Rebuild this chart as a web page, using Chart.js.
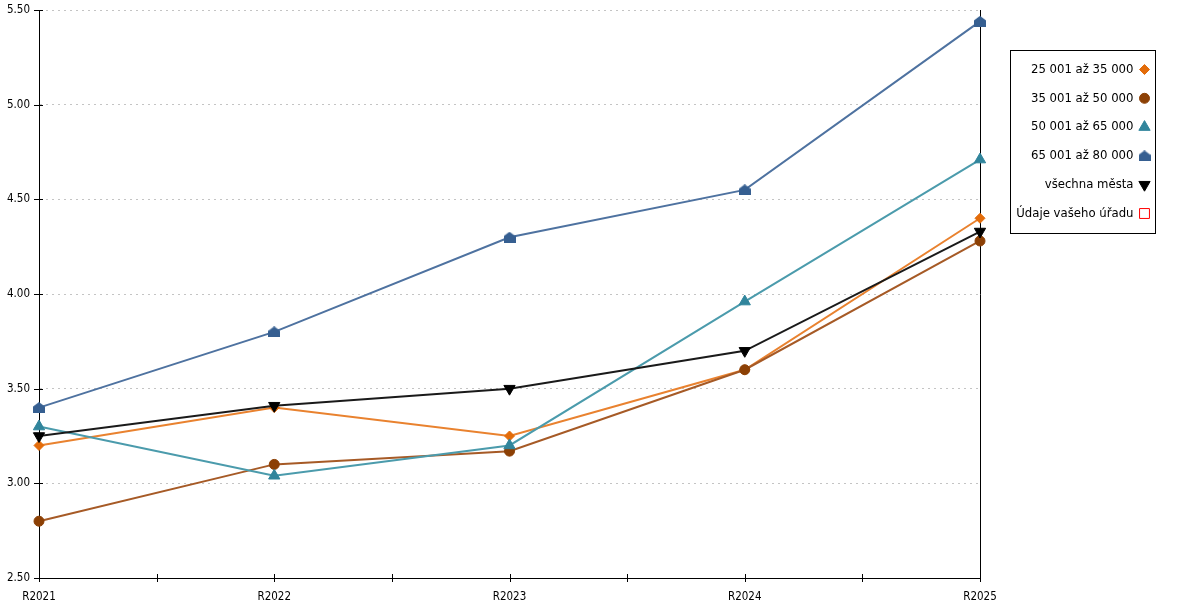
<!DOCTYPE html>
<html>
<head>
<meta charset="utf-8">
<script src="https://cdn.jsdelivr.net/npm/chart.js@4.4.1/dist/chart.umd.min.js"></script>
<style>
  html, body { margin: 0; padding: 0; background: #fff; }
  #wrap { width: 1200px; height: 600px; }
</style>
</head>
<body>
<div id="wrap"><canvas id="myChart"></canvas></div>
<script>
const years = ['R2021', 'R2022', 'R2023', 'R2024', 'R2025'];
const city25to35 = [3.20, 3.40, 3.25, 3.60, 4.40];
const city35to50 = [2.80, 3.10, 3.17, 3.60, 4.28];
const city50to65 = [3.30, 3.04, 3.20, 3.96, 4.71];
const city65to80 = [3.40, 3.80, 4.30, 4.55, 5.44];
const allCities = [3.25, 3.41, 3.50, 3.70, 4.33];
const yourOffice = []; // no data for this office
const seriesNames = ['25 001 až 35 000', '35 001 až 50 000', '50 001 až 65 000', '65 001 až 80 000', 'všechna města', 'Údaje vašeho úřadu'];
const yMin = 2.5, yMax = 5.5, yStep = 0.5;

const FONT = '"DejaVu Sans Condensed", "DejaVu Sans", sans-serif';

// house shaped marker for the 65 001 - 80 000 series
function houseMarker(color) {
  const c = document.createElement('canvas');
  c.width = 12; c.height = 11;
  const g = c.getContext('2d');
  g.fillStyle = color;
  g.beginPath();
  g.moveTo(6, 0);
  g.lineTo(12, 4.5);
  g.lineTo(12, 11);
  g.lineTo(0, 11);
  g.lineTo(0, 4.5);
  g.closePath();
  g.fill();
  return c;
}

function series(idx, data, line, mark, style, radius, rotation) {
  return {
    label: seriesNames[idx],
    data: data,
    order: 10 - idx, // later series on top
    borderColor: line,
    backgroundColor: mark,
    borderWidth: 2,
    tension: 0,
    pointStyle: style,
    pointRadius: radius,
    pointHoverRadius: radius,
    pointRotation: rotation || 0,
    pointBackgroundColor: mark,
    pointBorderColor: mark,
    pointBorderWidth: 1,
    clip: 12
  };
}

const datasets = [
  series(0, city25to35, '#e9822f', '#e36c0a', 'rectRot', 5),
  series(1, city35to50, '#a65a26', '#8c4005', 'circle', 5),
  series(2, city50to65, '#4b9bac', '#31859c', 'triangle', 6.5),
  series(3, city65to80, '#4e72a0', '#365f91', houseMarker('#365f91'), 6),
  series(4, allCities, '#1a1a1a', '#000000', 'triangle', 6.5, 180),
  series(5, yourOffice, '#ff0000', '#ffffff', 'rect', 7)
];
datasets[5].pointBorderColor = '#ff0000';

// tick marks crossing both axes
const axisMarks = {
  id: 'axisMarks',
  beforeDatasetsDraw(chart) {
    const { ctx, chartArea: a, scales: { x, y } } = chart;
    ctx.save();
    ctx.strokeStyle = '#000';
    ctx.lineWidth = 1;
    ctx.beginPath();
    for (let i = 0; i < years.length; i++) {
      const px = Math.round(x.getPixelForValue(i)) + 0.5;
      ctx.moveTo(px, a.bottom - 4);
      ctx.lineTo(px, a.bottom + 4);
      if (i < years.length - 1) {
        const mx = Math.round((x.getPixelForValue(i) + x.getPixelForValue(i + 1)) / 2) + 0.5;
        ctx.moveTo(mx, a.bottom - 4);
        ctx.lineTo(mx, a.bottom + 4);
      }
    }
    y.ticks.forEach(t => {
      const py = Math.round(y.getPixelForValue(t.value)) + 0.5;
      ctx.moveTo(a.left - 5, py);
      ctx.lineTo(a.left + 4, py);
    });
    ctx.stroke();
    ctx.restore();
  }
};

// framed legend on the right, text right aligned with marker after it
const boxLegend = {
  id: 'boxLegend',
  afterDraw(chart) {
    const { ctx, chartArea: a } = chart;
    const left = Math.round(a.right) + 30.5, top = 50.5, w = 145, h = 183;
    ctx.save();
    ctx.strokeStyle = '#000';
    ctx.lineWidth = 1;
    ctx.strokeRect(left, top, w, h);
    ctx.font = '13px ' + FONT;
    ctx.textAlign = 'right';
    ctx.textBaseline = 'middle';
    chart.data.datasets.forEach((ds, i) => {
      const cy = top + 19 + i * 28.8;
      ctx.fillStyle = '#000';
      ctx.fillText(ds.label, left + 123, cy);
      ctx.fillStyle = ds.pointBackgroundColor;
      ctx.strokeStyle = ds.pointBorderColor;
      ctx.lineWidth = 1;
      Chart.helpers.drawPoint(ctx, {
        pointStyle: ds.pointStyle,
        radius: ds.pointRadius,
        rotation: ds.pointRotation,
        borderWidth: 1
      }, left + 134, cy);
    });
    ctx.restore();
  }
};

function noTopPad(s) { s.paddingTop = 0; s.paddingBottom = 0; }

const ctx = document.getElementById('myChart').getContext('2d');
const myChart = new Chart(ctx, {
  type: 'line',
  data: { labels: years, datasets: datasets },
  plugins: [axisMarks, boxLegend],
  options: {
    responsive: true,
    maintainAspectRatio: false,
    animation: false,
    layout: { padding: { left: 0, top: 10, right: 220, bottom: 0 } },
    plugins: {
      legend: { display: false },
      tooltip: { enabled: false }
    },
    scales: {
      x: {
        offset: false,
        grid: { display: false },
        border: { color: '#000', width: 1 },
        ticks: {
          color: '#000',
          font: { family: FONT, size: 11.5 },
          padding: 4,
          maxRotation: 0,
          autoSkip: false
        },
        afterFit(s) { s.height = 22; }
      },
      y: {
        min: yMin,
        max: yMax,
        grid: { color: '#c4c4c4', lineWidth: 1, drawTicks: false },
        border: { color: '#000', width: 1, dash: [2, 4] },
        ticks: {
          stepSize: yStep,
          color: '#000',
          font: { family: FONT, size: 11.5 },
          padding: 9,
          callback: v => v.toFixed(2)
        },
        afterFit(s) { s.width = 39; noTopPad(s); }
      },
      y2: {
        position: 'right',
        grid: { display: false, drawTicks: false },
        ticks: { display: false },
        border: { color: '#000', width: 1 },
        afterFit(s) { s.width = 0; noTopPad(s); }
      }
    }
  }
});
</script>
</body>
</html>
